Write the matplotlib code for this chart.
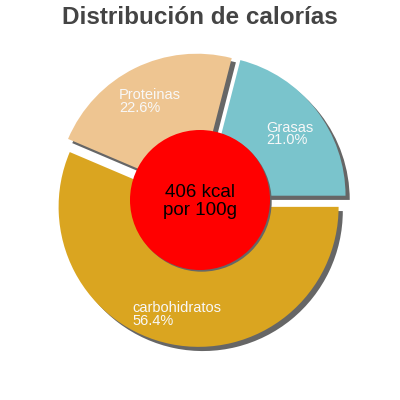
import numpy as np
import matplotlib
matplotlib.use("Agg")
import matplotlib.pyplot as plt
from matplotlib.patches import Circle

labels = ["Grasas", "Proteinas", "carbohidratos"]
values = [21.0, 22.6, 56.4]
colors = ["#7ac4cc", "#eec591", "#daa520"]
explode = [0.05, 0.05, 0.05]
total_text = "406 kcal\npor 100g"

plt.rcParams["font.family"] = ["Liberation Sans", "DejaVu Sans"]

fig = plt.figure(figsize=(4, 4), dpi=100)
ax = fig.add_axes([0, 0, 1, 1])
lim = 200 / 140

sh = (0.03, -0.03)
# shadows first, then the coloured wedges on top
ax.pie(values, explode=explode, colors=["#666666"] * 3, startangle=0,
       counterclock=True, center=sh, radius=1, frame=True,
       wedgeprops=dict(linewidth=0))
wedges, _ = ax.pie(values, explode=explode, colors=colors, startangle=0,
                   counterclock=True, radius=1, frame=True,
                   wedgeprops=dict(linewidth=0))
ax.set_xlim(-lim, lim)
ax.set_ylim(-lim, lim)
ax.set_aspect("equal")
ax.axis("off")

for w, lab, v in zip(wedges, labels, values):
    ang = np.deg2rad((w.theta1 + w.theta2) / 2)
    cx, cy = w.center
    r = 0.76
    ax.text(cx + r * np.cos(ang), cy + r * np.sin(ang) - 0.025,
            f"{lab}\n{v:.1f}%", color="#f8f8f8", fontsize=10.5,
            ha="center", va="center", multialignment="left",
            linespacing=0.9)

ax.add_patch(Circle((0.012, -0.012), 0.5, color="#666666", lw=0))
ax.add_patch(Circle((0, 0), 0.5, color="#ff0000", lw=0))
ax.text(0, -0.01, total_text, ha="center", va="center", fontsize=13.5,
        color="black", linespacing=1.05)

fig.text(0.5, 1 - 17 / 400, "Distribución de calorías", ha="center",
         va="center", fontsize=17.5, fontweight="bold", color="#444444")

fig.savefig("out.png", dpi=100)
